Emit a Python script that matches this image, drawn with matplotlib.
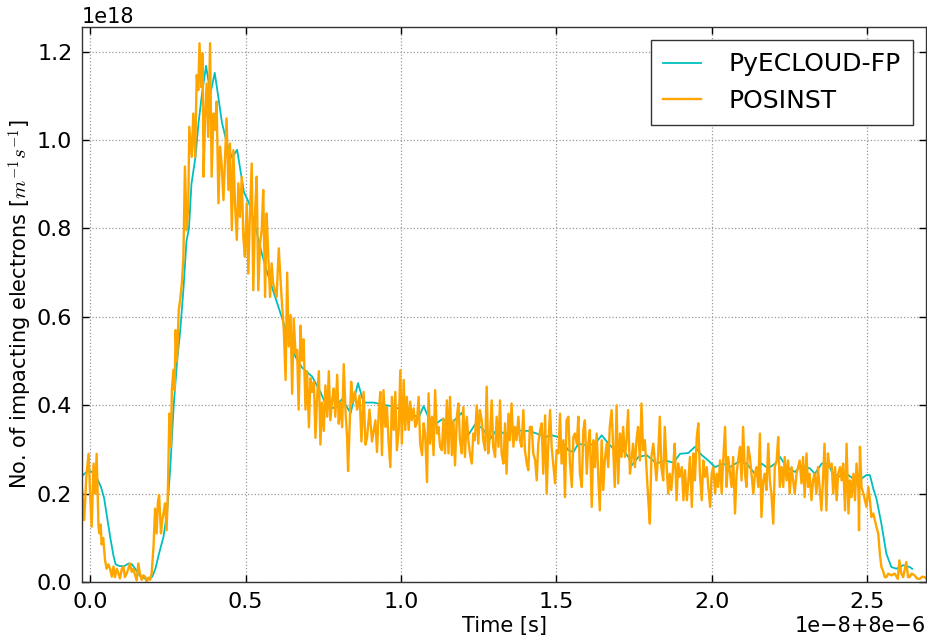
import numpy as np
import matplotlib
matplotlib.use("Agg")
import matplotlib.pyplot as plt

# ---- data (time in units of 1e-8 s after 8e-6 s, rate in units of 1e18 m^-1 s^-1)
pyecloud_t = [-0.026, -0.01, 0.005, 0.022, 0.035, 0.045, 0.055, 0.065, 0.075, 0.082, 0.095, 0.11,
              0.124, 0.135, 0.145, 0.16, 0.175, 0.19, 0.2, 0.21, 0.222, 0.236, 0.248, 0.258, 0.269,
              0.28, 0.29, 0.3, 0.31, 0.318, 0.326, 0.339, 0.349, 0.36, 0.373, 0.387, 0.401, 0.414,
              0.424, 0.44, 0.457, 0.473, 0.495, 0.511, 0.532, 0.554, 0.57, 0.596, 0.618, 0.639,
              0.661, 0.682, 0.714, 0.741, 0.763, 0.784, 0.811, 0.838, 0.862, 0.88, 0.913, 0.95,
              0.97, 1.003, 1.035, 1.057, 1.073, 1.089, 1.11, 1.132, 1.164, 1.196, 1.218, 1.239,
              1.26, 1.287, 1.309, 1.336, 1.368, 1.389, 1.411, 1.437, 1.464, 1.485, 1.507, 1.523,
              1.539, 1.555, 1.571, 1.598, 1.625, 1.646, 1.668, 1.689, 1.711, 1.732, 1.743, 1.764,
              1.791, 1.823, 1.85, 1.877, 1.898, 1.925, 1.946, 1.968, 1.989, 2.011, 2.037, 2.059,
              2.086, 2.112, 2.139, 2.161, 2.182, 2.204, 2.22, 2.241, 2.268, 2.289, 2.316, 2.332,
              2.354, 2.375, 2.386, 2.407, 2.434, 2.455, 2.482, 2.498, 2.509, 2.52, 2.53, 2.546,
              2.562, 2.578, 2.594, 2.616, 2.637, 2.645]
pyecloud_n = [0.24, 0.25, 0.25, 0.235, 0.215, 0.19, 0.145, 0.1, 0.06, 0.04, 0.036, 0.036,
              0.042, 0.04, 0.03, 0.014, 0.008, 0.008, 0.012, 0.03, 0.065, 0.102, 0.16, 0.26, 0.40,
              0.50, 0.57, 0.66, 0.771, 0.80, 0.90, 0.962, 1.04, 1.105, 1.168, 1.105, 1.152, 1.09,
              1.04, 0.993, 0.96, 0.978, 0.882, 0.858, 0.803, 0.739, 0.70, 0.644, 0.596, 0.549,
              0.509, 0.485, 0.465, 0.43, 0.394, 0.394, 0.414, 0.382, 0.45, 0.406, 0.406, 0.40,
              0.398, 0.39, 0.38, 0.372, 0.398, 0.372, 0.357, 0.368, 0.36, 0.383, 0.334, 0.357,
              0.349, 0.323, 0.346, 0.334, 0.346, 0.342, 0.342, 0.336, 0.328, 0.332, 0.328, 0.313,
              0.298, 0.294, 0.313, 0.309, 0.313, 0.332, 0.313, 0.298, 0.302, 0.283, 0.264, 0.283,
              0.287, 0.268, 0.275, 0.27, 0.29, 0.292, 0.306, 0.287, 0.275, 0.26, 0.268, 0.26,
              0.272, 0.268, 0.245, 0.268, 0.257, 0.268, 0.283, 0.26, 0.249, 0.264, 0.257, 0.245,
              0.268, 0.268, 0.25, 0.238, 0.245, 0.234, 0.234, 0.242, 0.242, 0.211, 0.189, 0.132,
              0.064, 0.034, 0.030, 0.038, 0.034, 0.03]

posinst_t = [-0.03, -0.025, -0.019, -0.012, -0.005, 0.0, 0.005, 0.011, 0.016, 0.021, 0.027, 0.03,
             0.034, 0.037, 0.042, 0.048, 0.053, 0.059, 0.064, 0.07, 0.075, 0.08, 0.086, 0.091,
             0.096, 0.102, 0.107, 0.112, 0.118, 0.123, 0.128, 0.134, 0.139, 0.145, 0.15, 0.155,
             0.16, 0.166, 0.171, 0.177, 0.182, 0.188, 0.193, 0.198, 0.204, 0.209, 0.214, 0.218,
             0.222, 0.228, 0.232, 0.236, 0.241, 0.246, 0.25, 0.252, 0.255, 0.258, 0.26, 0.263,
             0.268, 0.272, 0.275, 0.279, 0.281, 0.285, 0.29, 0.295, 0.3, 0.305, 0.311, 0.316,
             0.319, 0.327, 0.332, 0.338, 0.343, 0.348, 0.352, 0.357, 0.362, 0.365, 0.37, 0.375,
             0.38, 0.386, 0.391, 0.397, 0.402, 0.407, 0.413, 0.418, 0.423, 0.429, 0.434, 0.439,
             0.445, 0.45, 0.456, 0.461, 0.466, 0.472, 0.477, 0.482, 0.488, 0.493, 0.498, 0.504,
             0.509, 0.514, 0.52, 0.525, 0.531, 0.536, 0.541, 0.547, 0.552, 0.557, 0.563, 0.568,
             0.573, 0.579, 0.584, 0.589, 0.6, 0.607, 0.616, 0.623, 0.629, 0.634, 0.639, 0.645,
             0.65, 0.655, 0.661, 0.666, 0.671, 0.677, 0.682, 0.687, 0.693, 0.698, 0.704, 0.709,
             0.714, 0.72, 0.725, 0.73, 0.736, 0.741, 0.746, 0.752, 0.757, 0.763, 0.768, 0.773,
             0.779, 0.784, 0.789, 0.795, 0.8, 0.805, 0.811, 0.816, 0.822, 0.827, 0.83, 0.834,
             0.84, 0.845, 0.852, 0.859, 0.867, 0.873, 0.88, 0.886, 0.891, 0.899, 0.907, 0.918,
             0.923, 0.929, 0.934, 0.939, 0.944, 0.95, 0.955, 0.96, 0.966, 0.971, 0.977, 0.982,
             0.987, 0.993, 0.998, 1.003, 1.009, 1.014, 1.019, 1.025, 1.03, 1.035, 1.041, 1.046,
             1.051, 1.057, 1.062, 1.068, 1.073, 1.078, 1.084, 1.089, 1.094, 1.1, 1.105, 1.11,
             1.116, 1.121, 1.126, 1.132, 1.137, 1.142, 1.148, 1.153, 1.158, 1.164, 1.169, 1.174,
             1.18, 1.185, 1.19, 1.196, 1.201, 1.206, 1.212, 1.217, 1.222, 1.228, 1.233, 1.238,
             1.244, 1.249, 1.254, 1.26, 1.265, 1.271, 1.276, 1.281, 1.287, 1.292, 1.297, 1.303,
             1.308, 1.314, 1.319, 1.324, 1.33, 1.335, 1.34, 1.346, 1.351, 1.356, 1.362, 1.367,
             1.372, 1.378, 1.383, 1.388, 1.394, 1.399, 1.405, 1.41, 1.415, 1.421, 1.426, 1.432,
             1.437, 1.442, 1.448, 1.453, 1.458, 1.464, 1.469, 1.474, 1.48, 1.485, 1.49, 1.496,
             1.501, 1.507, 1.512, 1.517, 1.523, 1.528, 1.533, 1.539, 1.544, 1.55, 1.555, 1.56,
             1.566, 1.571, 1.576, 1.582, 1.587, 1.592, 1.598, 1.603, 1.608, 1.614, 1.619, 1.624,
             1.63, 1.635, 1.64, 1.646, 1.651, 1.656, 1.662, 1.667, 1.672, 1.678, 1.683, 1.688,
             1.694, 1.699, 1.705, 1.71, 1.715, 1.721, 1.726, 1.731, 1.737, 1.742, 1.747, 1.753,
             1.758, 1.763, 1.769, 1.774, 1.779, 1.785, 1.79, 1.796, 1.801, 1.806, 1.812, 1.817,
             1.822, 1.828, 1.833, 1.838, 1.844, 1.849, 1.854, 1.86, 1.865, 1.87, 1.876, 1.881,
             1.887, 1.892, 1.897, 1.904, 1.909, 1.914, 1.92, 1.925, 1.93, 1.936, 1.941, 1.946,
             1.952, 1.957, 1.962, 1.968, 1.973, 1.978, 1.984, 1.989, 1.995, 2.0, 2.005, 2.011,
             2.016, 2.021, 2.027, 2.032, 2.037, 2.043, 2.048, 2.053, 2.059, 2.064, 2.069, 2.075,
             2.08, 2.085, 2.091, 2.096, 2.101, 2.107, 2.112, 2.117, 2.123, 2.128, 2.134, 2.139,
             2.144, 2.15, 2.155, 2.16, 2.166, 2.171, 2.176, 2.182, 2.187, 2.192, 2.198, 2.203,
             2.209, 2.214, 2.219, 2.225, 2.23, 2.235, 2.241, 2.246, 2.251, 2.257, 2.262, 2.267,
             2.273, 2.278, 2.283, 2.289, 2.294, 2.299, 2.305, 2.31, 2.315, 2.321, 2.326, 2.331,
             2.337, 2.342, 2.347, 2.353, 2.358, 2.363, 2.369, 2.374, 2.379, 2.386, 2.391, 2.397,
             2.402, 2.407, 2.413, 2.418, 2.423, 2.429, 2.434, 2.44, 2.445, 2.45, 2.456, 2.461,
             2.466, 2.472, 2.474, 2.477, 2.482, 2.488, 2.493, 2.498, 2.504, 2.509, 2.514, 2.52,
             2.525, 2.53, 2.536, 2.541, 2.546, 2.551, 2.557, 2.562, 2.568, 2.578, 2.589, 2.599,
             2.604, 2.61, 2.616, 2.626, 2.632, 2.637, 2.643, 2.653, 2.66, 2.669, 2.677, 2.685,
             2.69]
posinst_n = [0.238, 0.20, 0.14, 0.24, 0.29, 0.20, 0.125, 0.268, 0.2, 0.29, 0.125, 0.11,
             0.13, 0.085, 0.1, 0.05, 0.03, 0.04, 0.03, 0.012, 0.035, 0.011, 0.03, 0.02,
             0.008, 0.03, 0.035, 0.011, 0.02, 0.03, 0.042, 0.023, 0.03, 0.015, 0.004, 0.042,
             0.02, 0.005, 0.015, 0.012, 0.0, 0.01, 0.005, 0.02, 0.08, 0.166, 0.11, 0.18,
             0.197, 0.11, 0.14, 0.155, 0.178, 0.117, 0.2, 0.275, 0.381, 0.33, 0.306, 0.434,
             0.48, 0.434, 0.57, 0.5, 0.525, 0.615, 0.64, 0.675, 0.73, 0.94, 0.796, 0.857,
             1.03, 0.962, 1.06, 0.962, 1.147, 1.113, 1.219, 1.12, 1.196, 0.917, 1.053, 1.128,
             1.007, 1.219, 0.917, 1.06, 1.023, 1.087, 0.857, 0.985, 0.947, 0.864, 0.955, 1.049,
             0.887, 0.992, 0.796, 0.977, 0.857, 0.774, 0.902, 0.826, 0.917, 0.781, 0.736, 0.857,
             0.698, 0.826, 0.947, 0.66, 0.841, 0.917, 0.66, 0.766, 0.796, 0.887, 0.645, 0.834,
             0.743, 0.645, 0.721, 0.675, 0.645, 0.755, 0.644, 0.573, 0.457, 0.7, 0.533, 0.604,
             0.426, 0.596, 0.517, 0.525, 0.39, 0.58, 0.501, 0.549, 0.39, 0.477, 0.35, 0.461,
             0.43, 0.453, 0.326, 0.414, 0.477, 0.311, 0.406, 0.342, 0.445, 0.374, 0.477, 0.366,
             0.414, 0.438, 0.374, 0.469, 0.358, 0.406, 0.35, 0.493, 0.382, 0.326, 0.251, 0.334,
             0.453, 0.406, 0.43, 0.39, 0.422, 0.318, 0.43, 0.311, 0.326, 0.39, 0.318, 0.366,
             0.294, 0.39, 0.43, 0.287, 0.434, 0.351, 0.396, 0.321, 0.26, 0.419, 0.344, 0.43,
             0.298, 0.344, 0.479, 0.313, 0.457, 0.344, 0.419, 0.344, 0.408, 0.366, 0.393, 0.351,
             0.359, 0.419, 0.313, 0.287, 0.359, 0.336, 0.226, 0.427, 0.313, 0.374, 0.287, 0.434,
             0.336, 0.351, 0.306, 0.298, 0.37, 0.291, 0.411, 0.291, 0.419, 0.287, 0.366, 0.264,
             0.374, 0.404, 0.321, 0.291, 0.396, 0.283, 0.374, 0.321, 0.291, 0.268, 0.336, 0.321,
             0.4, 0.313, 0.389, 0.366, 0.321, 0.298, 0.442, 0.291, 0.336, 0.411, 0.306, 0.283,
             0.374, 0.306, 0.411, 0.291, 0.268, 0.359, 0.245, 0.381, 0.321, 0.404, 0.306, 0.351,
             0.321, 0.374, 0.321, 0.306, 0.389, 0.298, 0.268, 0.253, 0.351, 0.351, 0.291, 0.275,
             0.23, 0.313, 0.344, 0.359, 0.245, 0.377, 0.2, 0.306, 0.389, 0.306, 0.268, 0.223,
             0.298, 0.291, 0.381, 0.268, 0.321, 0.192, 0.366, 0.374, 0.268, 0.215, 0.328, 0.336,
             0.313, 0.374, 0.245, 0.215, 0.344, 0.366, 0.245, 0.313, 0.344, 0.17, 0.321, 0.26,
             0.336, 0.238, 0.162, 0.321, 0.208, 0.275, 0.313, 0.26, 0.351, 0.389, 0.306, 0.215,
             0.4, 0.223, 0.336, 0.283, 0.351, 0.283, 0.321, 0.389, 0.245, 0.275, 0.313, 0.26,
             0.321, 0.351, 0.275, 0.404, 0.298, 0.321, 0.26, 0.185, 0.132, 0.283, 0.313, 0.275,
             0.23, 0.291, 0.374, 0.26, 0.23, 0.351, 0.275, 0.2, 0.245, 0.208, 0.26, 0.313,
             0.185, 0.268, 0.238, 0.26, 0.185, 0.253, 0.185, 0.23, 0.283, 0.17, 0.291, 0.23,
             0.328, 0.359, 0.245, 0.185, 0.275, 0.238, 0.26, 0.215, 0.17, 0.245, 0.26, 0.2,
             0.245, 0.215, 0.275, 0.2, 0.275, 0.351, 0.215, 0.283, 0.245, 0.215, 0.283, 0.155,
             0.245, 0.275, 0.306, 0.23, 0.351, 0.245, 0.215, 0.306, 0.283, 0.245, 0.2, 0.245,
             0.26, 0.215, 0.336, 0.147, 0.23, 0.245, 0.208, 0.313, 0.23, 0.2, 0.132, 0.26,
             0.275, 0.328, 0.215, 0.26, 0.215, 0.283, 0.23, 0.275, 0.2, 0.26, 0.23, 0.2,
             0.245, 0.26, 0.275, 0.223, 0.283, 0.192, 0.291, 0.215, 0.245, 0.185, 0.23, 0.245,
             0.2, 0.26, 0.215, 0.162, 0.23, 0.313, 0.162, 0.291, 0.26, 0.268, 0.2, 0.26,
             0.185, 0.245, 0.26, 0.23, 0.268, 0.162, 0.313, 0.155, 0.23, 0.192, 0.245, 0.185,
             0.268, 0.208, 0.117, 0.306, 0.215, 0.2, 0.185, 0.17, 0.215, 0.185, 0.147, 0.155,
             0.14, 0.125, 0.109, 0.064, 0.034, 0.026, 0.011, 0.011, 0.019, 0.015, 0.019, 0.007,
             0.049, 0.019, 0.011, 0.045, 0.011, 0.011, 0.019, 0.015, 0.008, 0.007, 0.012, 0.011,
             0.008]

T0 = 8e-6
T_UNIT = 1e-8
N_UNIT = 1e18

plt.rcParams['font.family'] = ['DejaVu Sans']
plt.rcParams['mathtext.fontset'] = 'cm'

fig = plt.figure(figsize=(9.28, 6.4), dpi=100, facecolor='white')
ax = fig.add_axes([0.0884, 0.0906, 0.9096, 0.8674])

t1 = T0 + np.array(pyecloud_t) * T_UNIT
n1 = np.array(pyecloud_n) * N_UNIT
t2 = T0 + np.array(posinst_t) * T_UNIT
n2 = np.array(posinst_n) * N_UNIT

ax.plot(t1, n1, color='#00bfbf', lw=1.3, label='PyECLOUD-FP')
ax.plot(t2, n2, color='#ffa500', lw=1.7, label='POSINST')

ax.set_xlim(T0 - 0.026 * T_UNIT, T0 + 2.69 * T_UNIT)
ax.set_ylim(0, 1.256 * N_UNIT)
ax.set_xticks(T0 + np.arange(0, 2.51, 0.5) * T_UNIT)
ax.set_yticks(np.arange(0, 1.21, 0.2) * N_UNIT)
ax.ticklabel_format(axis='x', style='sci', useOffset=T0, useMathText=False)

ax.grid(True, color='#9a9a9a', linestyle=':', linewidth=0.9)
ax.tick_params(direction='in', top=True, right=True, labelsize=16, length=5, width=1, pad=7)
for s in ax.spines.values():
    s.set_color('#333333')
    s.set_linewidth(1.0)

ax.xaxis.get_offset_text().set_fontsize(15)
ax.yaxis.get_offset_text().set_fontsize(15)

ax.set_xlabel('Time [s]', fontsize=15, labelpad=3)
ax.set_ylabel('No. of impacting electrons [$m^{-1}s^{-1}$]', fontsize=15, labelpad=1)

leg = ax.legend(loc='upper right', fontsize=18, handlelength=1.5, handletextpad=1.1,
                labelspacing=0.5, borderpad=0.5, borderaxespad=0.52, fancybox=False,
                framealpha=1, edgecolor='#333333')
leg.get_frame().set_linewidth(1.0)

fig.savefig('out.png', dpi=100, facecolor='white')
